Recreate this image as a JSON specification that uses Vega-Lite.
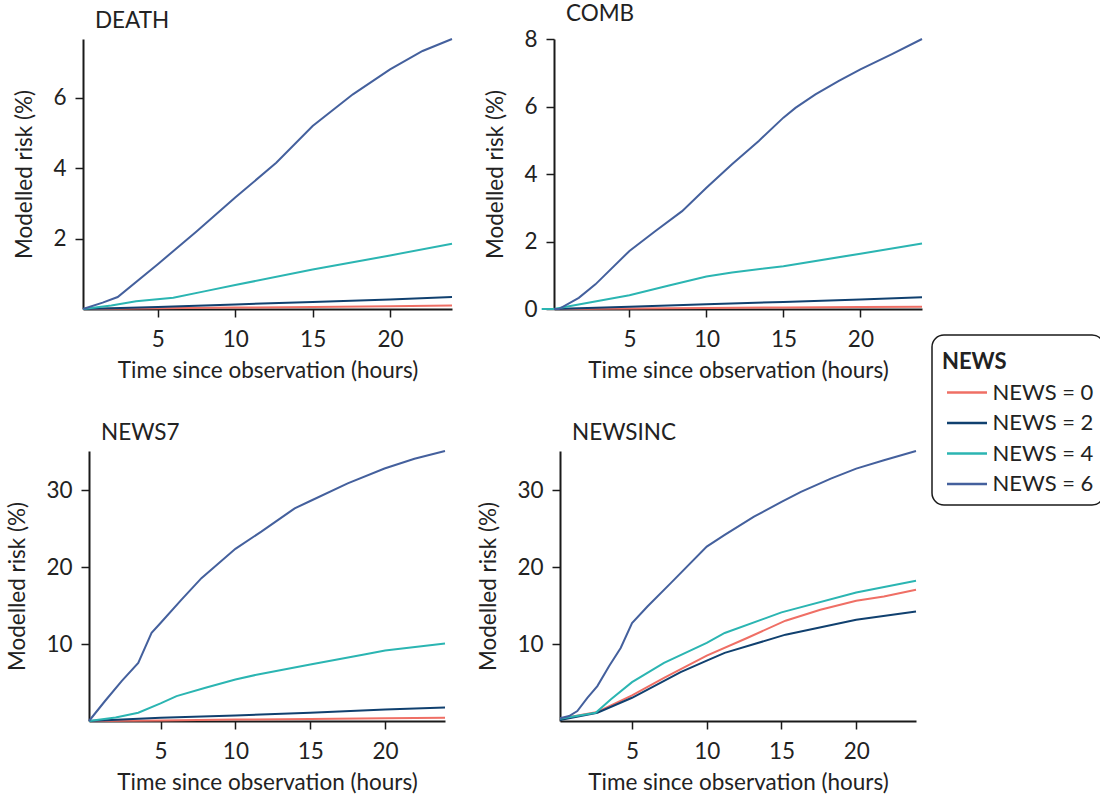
{
  "$schema": "https://vega.github.io/schema/vega-lite/v6.json",
  "padding": {"left": 6, "top": 2, "right": 0, "bottom": 0},
  "background": "white",
  "datasets": {
    "risk": [
      {"outcome":"DEATH","news":"NEWS = 0","hours":0.17,"risk":0},
      {"outcome":"DEATH","news":"NEWS = 0","hours":5,"risk":0.02},
      {"outcome":"DEATH","news":"NEWS = 0","hours":10,"risk":0.04},
      {"outcome":"DEATH","news":"NEWS = 0","hours":15,"risk":0.06},
      {"outcome":"DEATH","news":"NEWS = 0","hours":20,"risk":0.08},
      {"outcome":"DEATH","news":"NEWS = 0","hours":24,"risk":0.1},
      {"outcome":"DEATH","news":"NEWS = 2","hours":0.17,"risk":0},
      {"outcome":"DEATH","news":"NEWS = 2","hours":2,"risk":0.02},
      {"outcome":"DEATH","news":"NEWS = 2","hours":5,"risk":0.06},
      {"outcome":"DEATH","news":"NEWS = 2","hours":10,"risk":0.13},
      {"outcome":"DEATH","news":"NEWS = 2","hours":15,"risk":0.2},
      {"outcome":"DEATH","news":"NEWS = 2","hours":20,"risk":0.27},
      {"outcome":"DEATH","news":"NEWS = 2","hours":24,"risk":0.34},
      {"outcome":"DEATH","news":"NEWS = 4","hours":0.17,"risk":0},
      {"outcome":"DEATH","news":"NEWS = 4","hours":2,"risk":0.1},
      {"outcome":"DEATH","news":"NEWS = 4","hours":3.6,"risk":0.22},
      {"outcome":"DEATH","news":"NEWS = 4","hours":6,"risk":0.32},
      {"outcome":"DEATH","news":"NEWS = 4","hours":8,"risk":0.5},
      {"outcome":"DEATH","news":"NEWS = 4","hours":10,"risk":0.68},
      {"outcome":"DEATH","news":"NEWS = 4","hours":15,"risk":1.12},
      {"outcome":"DEATH","news":"NEWS = 4","hours":20,"risk":1.52},
      {"outcome":"DEATH","news":"NEWS = 4","hours":24,"risk":1.85},
      {"outcome":"DEATH","news":"NEWS = 6","hours":0.17,"risk":0},
      {"outcome":"DEATH","news":"NEWS = 6","hours":1.44,"risk":0.18},
      {"outcome":"DEATH","news":"NEWS = 6","hours":2.41,"risk":0.34},
      {"outcome":"DEATH","news":"NEWS = 6","hours":5,"risk":1.27},
      {"outcome":"DEATH","news":"NEWS = 6","hours":7.5,"risk":2.2},
      {"outcome":"DEATH","news":"NEWS = 6","hours":10,"risk":3.16},
      {"outcome":"DEATH","news":"NEWS = 6","hours":12.65,"risk":4.15},
      {"outcome":"DEATH","news":"NEWS = 6","hours":15,"risk":5.19},
      {"outcome":"DEATH","news":"NEWS = 6","hours":17.6,"risk":6.09},
      {"outcome":"DEATH","news":"NEWS = 6","hours":20,"risk":6.8},
      {"outcome":"DEATH","news":"NEWS = 6","hours":22.1,"risk":7.32},
      {"outcome":"DEATH","news":"NEWS = 6","hours":24,"risk":7.66},

      {"outcome":"COMB","news":"NEWS = 0","hours":0.1,"risk":0},
      {"outcome":"COMB","news":"NEWS = 0","hours":5,"risk":0.015},
      {"outcome":"COMB","news":"NEWS = 0","hours":10,"risk":0.03},
      {"outcome":"COMB","news":"NEWS = 0","hours":15,"risk":0.045},
      {"outcome":"COMB","news":"NEWS = 0","hours":20,"risk":0.06},
      {"outcome":"COMB","news":"NEWS = 0","hours":24,"risk":0.07},
      {"outcome":"COMB","news":"NEWS = 2","hours":0.1,"risk":0},
      {"outcome":"COMB","news":"NEWS = 2","hours":5,"risk":0.07},
      {"outcome":"COMB","news":"NEWS = 2","hours":10,"risk":0.14},
      {"outcome":"COMB","news":"NEWS = 2","hours":15,"risk":0.21},
      {"outcome":"COMB","news":"NEWS = 2","hours":20,"risk":0.28},
      {"outcome":"COMB","news":"NEWS = 2","hours":24,"risk":0.35},
      {"outcome":"COMB","news":"NEWS = 4","hours":-0.7,"risk":0},
      {"outcome":"COMB","news":"NEWS = 4","hours":0.1,"risk":0},
      {"outcome":"COMB","news":"NEWS = 4","hours":2.5,"risk":0.2},
      {"outcome":"COMB","news":"NEWS = 4","hours":5,"risk":0.41},
      {"outcome":"COMB","news":"NEWS = 4","hours":7.5,"risk":0.69},
      {"outcome":"COMB","news":"NEWS = 4","hours":10,"risk":0.96},
      {"outcome":"COMB","news":"NEWS = 4","hours":11.66,"risk":1.08},
      {"outcome":"COMB","news":"NEWS = 4","hours":15,"risk":1.27},
      {"outcome":"COMB","news":"NEWS = 4","hours":20,"risk":1.64},
      {"outcome":"COMB","news":"NEWS = 4","hours":24,"risk":1.94},
      {"outcome":"COMB","news":"NEWS = 6","hours":0.1,"risk":0},
      {"outcome":"COMB","news":"NEWS = 6","hours":0.41,"risk":0},
      {"outcome":"COMB","news":"NEWS = 6","hours":1.71,"risk":0.33},
      {"outcome":"COMB","news":"NEWS = 6","hours":2.79,"risk":0.73},
      {"outcome":"COMB","news":"NEWS = 6","hours":5,"risk":1.72},
      {"outcome":"COMB","news":"NEWS = 6","hours":6.69,"risk":2.31},
      {"outcome":"COMB","news":"NEWS = 6","hours":8.42,"risk":2.9},
      {"outcome":"COMB","news":"NEWS = 6","hours":10,"risk":3.59},
      {"outcome":"COMB","news":"NEWS = 6","hours":11.66,"risk":4.29},
      {"outcome":"COMB","news":"NEWS = 6","hours":13.4,"risk":4.98},
      {"outcome":"COMB","news":"NEWS = 6","hours":15,"risk":5.67},
      {"outcome":"COMB","news":"NEWS = 6","hours":15.78,"risk":5.96},
      {"outcome":"COMB","news":"NEWS = 6","hours":17.08,"risk":6.36},
      {"outcome":"COMB","news":"NEWS = 6","hours":18.6,"risk":6.76},
      {"outcome":"COMB","news":"NEWS = 6","hours":20,"risk":7.1},
      {"outcome":"COMB","news":"NEWS = 6","hours":22.05,"risk":7.55},
      {"outcome":"COMB","news":"NEWS = 6","hours":24,"risk":8.0},

      {"outcome":"NEWS7","news":"NEWS = 0","hours":0.22,"risk":0},
      {"outcome":"NEWS7","news":"NEWS = 0","hours":5,"risk":0.08},
      {"outcome":"NEWS7","news":"NEWS = 0","hours":10,"risk":0.18},
      {"outcome":"NEWS7","news":"NEWS = 0","hours":15,"risk":0.27},
      {"outcome":"NEWS7","news":"NEWS = 0","hours":20,"risk":0.36},
      {"outcome":"NEWS7","news":"NEWS = 0","hours":24,"risk":0.43},
      {"outcome":"NEWS7","news":"NEWS = 2","hours":0.22,"risk":0},
      {"outcome":"NEWS7","news":"NEWS = 2","hours":5,"risk":0.43},
      {"outcome":"NEWS7","news":"NEWS = 2","hours":10,"risk":0.73},
      {"outcome":"NEWS7","news":"NEWS = 2","hours":15,"risk":1.08},
      {"outcome":"NEWS7","news":"NEWS = 2","hours":20,"risk":1.51},
      {"outcome":"NEWS7","news":"NEWS = 2","hours":24,"risk":1.77},
      {"outcome":"NEWS7","news":"NEWS = 4","hours":0.22,"risk":0},
      {"outcome":"NEWS7","news":"NEWS = 4","hours":2,"risk":0.45},
      {"outcome":"NEWS7","news":"NEWS = 4","hours":3.51,"risk":1.08},
      {"outcome":"NEWS7","news":"NEWS = 4","hours":5,"risk":2.29},
      {"outcome":"NEWS7","news":"NEWS = 4","hours":6.07,"risk":3.24},
      {"outcome":"NEWS7","news":"NEWS = 4","hours":8,"risk":4.32},
      {"outcome":"NEWS7","news":"NEWS = 4","hours":10,"risk":5.4},
      {"outcome":"NEWS7","news":"NEWS = 4","hours":11.5,"risk":6.05},
      {"outcome":"NEWS7","news":"NEWS = 4","hours":15,"risk":7.34},
      {"outcome":"NEWS7","news":"NEWS = 4","hours":18.6,"risk":8.64},
      {"outcome":"NEWS7","news":"NEWS = 4","hours":20,"risk":9.16},
      {"outcome":"NEWS7","news":"NEWS = 4","hours":24,"risk":10.06},
      {"outcome":"NEWS7","news":"NEWS = 6","hours":0.22,"risk":0},
      {"outcome":"NEWS7","news":"NEWS = 6","hours":1.29,"risk":2.6},
      {"outcome":"NEWS7","news":"NEWS = 6","hours":2.4,"risk":5.18},
      {"outcome":"NEWS7","news":"NEWS = 6","hours":3.51,"risk":7.56},
      {"outcome":"NEWS7","news":"NEWS = 6","hours":4.4,"risk":11.45},
      {"outcome":"NEWS7","news":"NEWS = 6","hours":5,"risk":12.74},
      {"outcome":"NEWS7","news":"NEWS = 6","hours":6.4,"risk":15.77},
      {"outcome":"NEWS7","news":"NEWS = 6","hours":7.73,"risk":18.57},
      {"outcome":"NEWS7","news":"NEWS = 6","hours":10,"risk":22.38},
      {"outcome":"NEWS7","news":"NEWS = 6","hours":11.73,"risk":24.62},
      {"outcome":"NEWS7","news":"NEWS = 6","hours":13.96,"risk":27.65},
      {"outcome":"NEWS7","news":"NEWS = 6","hours":15,"risk":28.6},
      {"outcome":"NEWS7","news":"NEWS = 6","hours":17.5,"risk":30.9},
      {"outcome":"NEWS7","news":"NEWS = 6","hours":19.96,"risk":32.83},
      {"outcome":"NEWS7","news":"NEWS = 6","hours":21.96,"risk":34.1},
      {"outcome":"NEWS7","news":"NEWS = 6","hours":24,"risk":35.1},

      {"outcome":"NEWSINC","news":"NEWS = 0","hours":0.18,"risk":0.3},
      {"outcome":"NEWSINC","news":"NEWS = 0","hours":2.68,"risk":1.17},
      {"outcome":"NEWSINC","news":"NEWS = 0","hours":5,"risk":3.33},
      {"outcome":"NEWSINC","news":"NEWS = 0","hours":7.14,"risk":5.62},
      {"outcome":"NEWSINC","news":"NEWS = 0","hours":10,"risk":8.51},
      {"outcome":"NEWSINC","news":"NEWS = 0","hours":12.7,"risk":10.8},
      {"outcome":"NEWSINC","news":"NEWS = 0","hours":15.27,"risk":13.05},
      {"outcome":"NEWSINC","news":"NEWS = 0","hours":17.6,"risk":14.47},
      {"outcome":"NEWSINC","news":"NEWS = 0","hours":20,"risk":15.64},
      {"outcome":"NEWSINC","news":"NEWS = 0","hours":21.85,"risk":16.2},
      {"outcome":"NEWSINC","news":"NEWS = 0","hours":24,"risk":17.06},
      {"outcome":"NEWSINC","news":"NEWS = 2","hours":0.18,"risk":0.13},
      {"outcome":"NEWSINC","news":"NEWS = 2","hours":2.68,"risk":1.08},
      {"outcome":"NEWSINC","news":"NEWS = 2","hours":5,"risk":3.02},
      {"outcome":"NEWSINC","news":"NEWS = 2","hours":8.25,"risk":6.35},
      {"outcome":"NEWSINC","news":"NEWS = 2","hours":10,"risk":7.86},
      {"outcome":"NEWSINC","news":"NEWS = 2","hours":11.2,"risk":8.86},
      {"outcome":"NEWSINC","news":"NEWS = 2","hours":15.27,"risk":11.23},
      {"outcome":"NEWSINC","news":"NEWS = 2","hours":20,"risk":13.18},
      {"outcome":"NEWSINC","news":"NEWS = 2","hours":24,"risk":14.25},
      {"outcome":"NEWSINC","news":"NEWS = 4","hours":0.18,"risk":0.3},
      {"outcome":"NEWSINC","news":"NEWS = 4","hours":2.57,"risk":1.08},
      {"outcome":"NEWSINC","news":"NEWS = 4","hours":3.57,"risk":2.81},
      {"outcome":"NEWSINC","news":"NEWS = 4","hours":5,"risk":5.05},
      {"outcome":"NEWSINC","news":"NEWS = 4","hours":7.14,"risk":7.56},
      {"outcome":"NEWSINC","news":"NEWS = 4","hours":10,"risk":10.15},
      {"outcome":"NEWSINC","news":"NEWS = 4","hours":11.2,"risk":11.45},
      {"outcome":"NEWSINC","news":"NEWS = 4","hours":15,"risk":14.13},
      {"outcome":"NEWSINC","news":"NEWS = 4","hours":20,"risk":16.72},
      {"outcome":"NEWSINC","news":"NEWS = 4","hours":24,"risk":18.23},
      {"outcome":"NEWSINC","news":"NEWS = 6","hours":0.18,"risk":0.35},
      {"outcome":"NEWSINC","news":"NEWS = 6","hours":0.79,"risk":0.65},
      {"outcome":"NEWSINC","news":"NEWS = 6","hours":1.34,"risk":1.3},
      {"outcome":"NEWSINC","news":"NEWS = 6","hours":2.01,"risk":3.02},
      {"outcome":"NEWSINC","news":"NEWS = 6","hours":2.68,"risk":4.54},
      {"outcome":"NEWSINC","news":"NEWS = 6","hours":3.46,"risk":7.13},
      {"outcome":"NEWSINC","news":"NEWS = 6","hours":4.24,"risk":9.5},
      {"outcome":"NEWSINC","news":"NEWS = 6","hours":5,"risk":12.74},
      {"outcome":"NEWSINC","news":"NEWS = 6","hours":6.03,"risk":14.9},
      {"outcome":"NEWSINC","news":"NEWS = 6","hours":7.59,"risk":17.93},
      {"outcome":"NEWSINC","news":"NEWS = 6","hours":10,"risk":22.68},
      {"outcome":"NEWSINC","news":"NEWS = 6","hours":11.2,"risk":24.2},
      {"outcome":"NEWSINC","news":"NEWS = 6","hours":13.16,"risk":26.57},
      {"outcome":"NEWSINC","news":"NEWS = 6","hours":15,"risk":28.51},
      {"outcome":"NEWSINC","news":"NEWS = 6","hours":16.3,"risk":29.8},
      {"outcome":"NEWSINC","news":"NEWS = 6","hours":18.3,"risk":31.53},
      {"outcome":"NEWSINC","news":"NEWS = 6","hours":20,"risk":32.83},
      {"outcome":"NEWSINC","news":"NEWS = 6","hours":21.85,"risk":33.91},
      {"outcome":"NEWSINC","news":"NEWS = 6","hours":24,"risk":35.12}
    ]
  },
  "data": {"name": "risk"},
  "center": true,
  "spacing": 39,
  "vconcat": [
    {
      "spacing": 28,
      "hconcat": [
        {
          "width": 369, "height": 270,
          "title": {"text": "DEATH"},
          "transform": [{"filter": "datum.outcome === 'DEATH'"}],
          "mark": {"type": "line", "strokeWidth": 2},
          "encoding": {
            "x": {"field": "hours", "type": "quantitative", "scale": {"domain": [0.17, 24], "nice": false, "zero": false}, "axis": {"values": [5, 10, 15, 20], "title": "Time since observation (hours)"}},
            "y": {"field": "risk", "type": "quantitative", "scale": {"domain": [0, 7.66], "nice": false}, "axis": {"values": [2, 4, 6], "title": "Modelled risk (%)"}},
            "color": {"field": "news", "type": "nominal", "title": "NEWS",
              "scale": {"domain": ["NEWS = 0", "NEWS = 2", "NEWS = 4", "NEWS = 6"], "range": ["#EF6F65", "#10406F", "#2BB5B2", "#44609D"]},
              "legend": {"orient": "none", "legendX": 849, "legendY": 296}}
          }
        },
        {
          "width": 368, "height": 270,
          "title": {"text": "COMB"},
          "transform": [{"filter": "datum.outcome === 'COMB'"}],
          "mark": {"type": "line", "strokeWidth": 2},
          "encoding": {
            "x": {"field": "hours", "type": "quantitative", "scale": {"domain": [0.1, 24], "nice": false, "zero": false}, "axis": {"values": [5, 10, 15, 20], "title": "Time since observation (hours)"}},
            "y": {"field": "risk", "type": "quantitative", "scale": {"domain": [0, 8], "nice": false}, "axis": {"values": [0, 2, 4, 6, 8], "title": "Modelled risk (%)"}},
            "color": {"field": "news", "type": "nominal", "title": "NEWS",
              "scale": {"domain": ["NEWS = 0", "NEWS = 2", "NEWS = 4", "NEWS = 6"], "range": ["#EF6F65", "#10406F", "#2BB5B2", "#44609D"]},
              "legend": {"orient": "none", "legendX": 849, "legendY": 296}}
          }
        }
      ]
    },
    {
      "spacing": 28,
      "hconcat": [
        {
          "width": 356, "height": 270,
          "title": {"text": "NEWS7"},
          "transform": [{"filter": "datum.outcome === 'NEWS7'"}],
          "mark": {"type": "line", "strokeWidth": 2},
          "encoding": {
            "x": {"field": "hours", "type": "quantitative", "scale": {"domain": [0.22, 24], "nice": false, "zero": false}, "axis": {"values": [5, 10, 15, 20], "title": "Time since observation (hours)"}},
            "y": {"field": "risk", "type": "quantitative", "scale": {"domain": [0, 35.1], "nice": false}, "axis": {"values": [10, 20, 30], "title": "Modelled risk (%)"}},
            "color": {"field": "news", "type": "nominal", "title": "NEWS",
              "scale": {"domain": ["NEWS = 0", "NEWS = 2", "NEWS = 4", "NEWS = 6"], "range": ["#EF6F65", "#10406F", "#2BB5B2", "#44609D"]},
              "legend": {"orient": "none", "legendX": 849, "legendY": 296}}
          }
        },
        {
          "width": 356, "height": 270,
          "title": {"text": "NEWSINC"},
          "transform": [{"filter": "datum.outcome === 'NEWSINC'"}],
          "mark": {"type": "line", "strokeWidth": 2},
          "encoding": {
            "x": {"field": "hours", "type": "quantitative", "scale": {"domain": [0.18, 24], "nice": false, "zero": false}, "axis": {"values": [5, 10, 15, 20], "title": "Time since observation (hours)"}},
            "y": {"field": "risk", "type": "quantitative", "scale": {"domain": [0, 35.12], "nice": false}, "axis": {"values": [10, 20, 30], "title": "Modelled risk (%)"}},
            "color": {"field": "news", "type": "nominal", "title": "NEWS",
              "scale": {"domain": ["NEWS = 0", "NEWS = 2", "NEWS = 4", "NEWS = 6"], "range": ["#EF6F65", "#10406F", "#2BB5B2", "#44609D"]},
              "legend": {"orient": "none", "legendX": 849, "legendY": 296}}
          }
        }
      ]
    }
  ],
  "config": {
    "font": "Lato",
    "view": {"stroke": null},
    "title": {"anchor": "start", "frame": "group", "dx": 12, "fontSize": 22.5, "fontWeight": "normal", "color": "#222222", "offset": 3, "font": "Lato"},
    "axis": {
      "grid": false,
      "domainColor": "#1a1a1a", "domainWidth": 2,
      "tickColor": "#1a1a1a", "tickWidth": 1.5, "tickSize": 8,
      "labelFont": "Lato", "labelFontSize": 22.5, "labelColor": "#222222",
      "titleFont": "Lato", "titleFontSize": 22.5, "titleFontWeight": "normal", "titleColor": "#222222", "titlePadding": 9
    },
    "axisX": {"labelPadding": 11},
    "axisY": {"labelPadding": 9, "titlePadding": 16},
    "legend": {
      "titleFont": "Lato", "titleFontSize": 22, "titleFontWeight": "bold", "titleColor": "#222222",
      "titleBaseline": "line-top", "titleLineHeight": 36, "titlePadding": 14,
      "labelFont": "Lato", "labelFontSize": 22, "labelColor": "#222222",
      "symbolType": "M-2,0H2", "symbolSize": 400, "symbolStrokeWidth": 2.5, "symbolOffset": 13.5, "labelOffset": 14,
      "rowPadding": 7.5, "padding": 10,
      "strokeColor": "#1a1a1a", "strokeWidth": 1.5, "cornerRadius": 12, "fillColor": "white"
    }
  }
}
